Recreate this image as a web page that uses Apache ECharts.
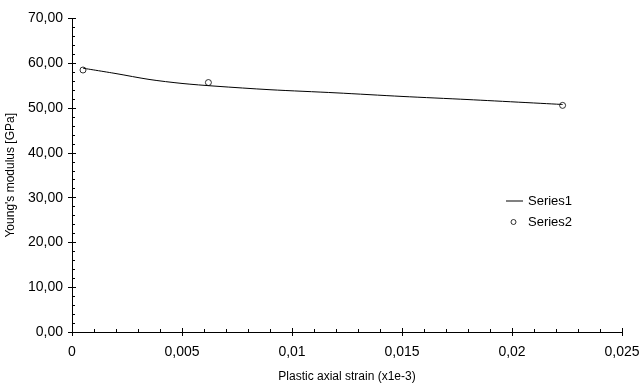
<!DOCTYPE html>
<html>
<head>
<meta charset="utf-8">
<script src="https://cdn.jsdelivr.net/npm/echarts@6/dist/echarts.min.js"></script>
<style>html,body{margin:0;padding:0;background:#fff}#c{width:640px;height:385px}</style>
</head>
<body>
<div id="c"></div>
<script>
// Series1: fitted curve
const fitX = [0.0005, 0.002, 0.0035, 0.005, 0.0065, 0.009, 0.012, 0.015, 0.018, 0.0223];
const fitY = [58.9, 57.7, 56.4, 55.5, 54.9, 54.1, 53.4, 52.6, 51.9, 50.8];
// Series2: measured points
const ptX = [0.0005, 0.0062, 0.0223];
const ptY = [58.5, 55.7, 50.6];
const xTicks = [0, 0.005, 0.01, 0.015, 0.02, 0.025];
const yTicks = [0, 10, 20, 30, 40, 50, 60, 70];

const font = 'Liberation Sans, Arial, sans-serif';
const fmtX = v => String(+v.toFixed(4)).replace('.', ',');
const fmtY = v => v.toFixed(2).replace('.', ',');

const chart = echarts.init(document.getElementById('c'));
const baseX = {type: 'value', min: xTicks[0], max: xTicks[xTicks.length-1], interval: 0.005, splitLine: {show: false}, position: 'bottom'};
const baseY = {type: 'value', min: yTicks[0], max: yTicks[yTicks.length-1], interval: 10, splitLine: {show: false}, position: 'left'};
chart.setOption({
  animation: false,
  grid: {left: 72, right: 18, top: 18.5, bottom: 53, outerBoundsMode: 'none', containLabel: false},
  xAxis: [
    Object.assign({}, baseX, {
      name: 'Plastic axial strain (x1e-3)', nameLocation: 'middle', nameGap: 39,
      nameTextStyle: {fontFamily: font, fontSize: 12, color: '#000'},
      axisLine: {onZero: false, lineStyle: {color: '#000', width: 1}},
      axisTick: {show: true, inside: false, length: 4, lineStyle: {color: '#000'}},
      axisLabel: {fontFamily: font, fontSize: 14, color: '#000', margin: 13, formatter: fmtX}
    }),
    Object.assign({}, baseX, {
      axisLine: {show: false},
      axisTick: {show: true, inside: true, length: 4, lineStyle: {color: '#000'}},
      minorTick: {show: true, splitNumber: 5, length: 3, lineStyle: {color: '#000'}},
      axisLabel: {show: false}
    })
  ],
  yAxis: [
    Object.assign({}, baseY, {
      name: "Young's modulus [GPa]", nameLocation: 'middle', nameGap: 48,
      nameTextStyle: {fontFamily: font, fontSize: 12, color: '#000'},
      axisLine: {show: true, onZero: false, lineStyle: {color: '#000', width: 1}},
      axisTick: {show: true, inside: false, length: 4, lineStyle: {color: '#000'}},
      axisLabel: {fontFamily: font, fontSize: 14, color: '#000', margin: 9, formatter: fmtY}
    }),
    Object.assign({}, baseY, {
      axisLine: {show: false},
      axisTick: {show: true, inside: true, length: 4, lineStyle: {color: '#000'}},
      minorTick: {show: true, splitNumber: 5, length: 3, lineStyle: {color: '#000'}},
      axisLabel: {show: false}
    })
  ],
  legend: [
    {data: [{name: 'Series1', icon: 'rect'}], orient: 'vertical', left: 506, top: 194, padding: 0, itemWidth: 17, itemHeight: 1,
     itemStyle: {color: '#000', borderWidth: 0},
     textStyle: {fontFamily: font, fontSize: 13, color: '#000', padding: [0, 0, 0, 0], lineHeight: 14}},
    {data: [{name: 'Series2', icon: 'circle'}], orient: 'vertical', left: 510.5, top: 215, padding: 0, itemWidth: 5, itemHeight: 5,
     itemStyle: {color: '#fff', borderColor: '#000', borderWidth: 1},
     textStyle: {fontFamily: font, fontSize: 13, color: '#000', padding: [0, 0, 0, 7], lineHeight: 14}}
  ],
  series: [
    {name: 'Series1', type: 'line', data: fitX.map((x, i) => [x, fitY[i]]), showSymbol: false, symbol: 'none',
     smooth: 0.3, lineStyle: {color: '#000', width: 1}, itemStyle: {color: '#000'}},
    {name: 'Series2', type: 'scatter', data: ptX.map((x, i) => [x, ptY[i]]), symbol: 'circle', symbolSize: 6,
     itemStyle: {color: '#fff', borderColor: '#000', borderWidth: 1}}
  ]
});
</script>
</body>
</html>
